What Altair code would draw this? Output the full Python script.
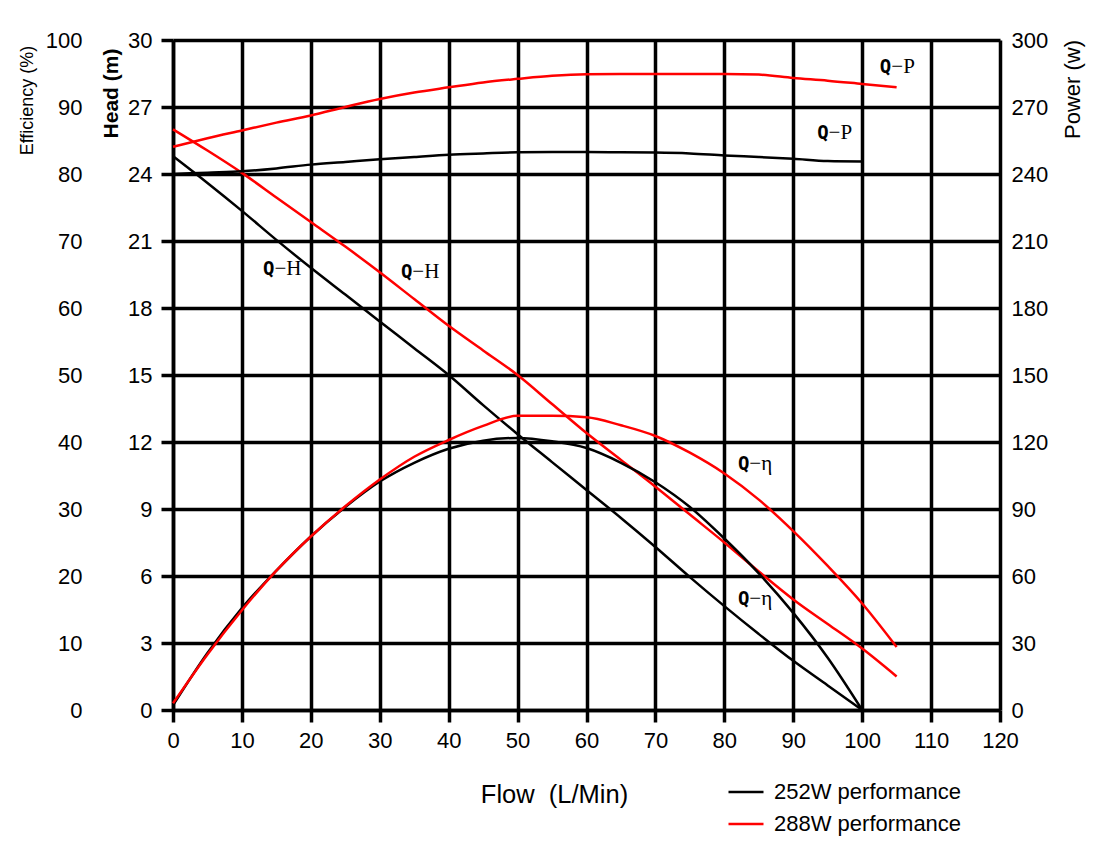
import altair as alt
import pandas as pd

# ---- data ----
flow_252 = [0, 5, 10, 15, 20, 25, 30, 35, 40, 45, 50, 55, 60, 65, 70, 75, 80, 85, 90, 95, 100]
head_252 = [24.8, 23.6, 22.35, 21.05, 19.8, 18.6, 17.4, 16.2, 15.0, 13.65, 12.35, 11.1, 9.85, 8.6, 7.3, 5.95, 4.65, 3.4, 2.2, 1.1, 0.0]
eff_252 = [0.7, 8.5, 15.2, 20.8, 25.9, 30.3, 34.1, 36.9, 39.0, 40.2, 40.6, 40.1, 39.1, 36.9, 34.0, 30.3, 25.6, 20.4, 14.5, 7.8, 0.0]
power_252 = [240.0, 240.6, 241.2, 242.5, 244.2, 245.4, 246.6, 247.6, 248.6, 249.2, 249.7, 249.8, 249.8, 249.7, 249.6, 249.2, 248.3, 247.6, 246.8, 245.8, 245.6]

flow_288 = [0, 5, 10, 15, 20, 25, 30, 35, 40, 45, 50, 55, 60, 65, 70, 75, 80, 85, 90, 95, 100, 105]
head_288 = [26.0, 25.05, 24.05, 22.95, 21.85, 20.75, 19.6, 18.4, 17.2, 16.1, 15.0, 13.7, 12.4, 11.2, 10.0, 8.75, 7.5, 6.2, 4.95, 3.85, 2.75, 1.5]
eff_288 = [1.0, 8.3, 14.9, 20.8, 25.9, 30.4, 34.4, 37.8, 40.3, 42.4, 43.9, 43.9, 43.7, 42.5, 40.9, 38.4, 35.3, 31.4, 26.7, 21.5, 15.9, 9.4]
power_288 = [252.2, 256.0, 259.5, 263.0, 266.2, 270.0, 273.6, 276.5, 278.8, 281.0, 282.6, 284.0, 284.7, 284.8, 284.8, 284.8, 284.8, 284.5, 283.0, 281.8, 280.3, 278.8]

pumps = ["252W performance", "288W performance"]
pump_colors = ["#000000", "#ff0000"]

# curve annotations: bold "Q" followed by a thin serif "−X"
label_head_part = ["Q", "Q", "Q", "Q", "Q", "Q"]
label_tail_part = ["\u2212P", "\u2212P", "\u2212H", "\u2212H", "\u2212\u03b7", "\u2212\u03b7"]
label_flow = [105.1, 96.0, 15.6, 35.6, 84.5, 84.5]
label_head = [28.8, 25.85, 19.75, 19.6, 11.0, 4.95]

# ---- build long table ----
rows = []
for pump, flows, series in [
    (pumps[0], flow_252, {"head": head_252, "eff": eff_252, "power": power_252}),
    (pumps[1], flow_288, {"head": head_288, "eff": eff_288, "power": power_288}),
]:
    for kind, vals in series.items():
        for f, v in zip(flows, vals):
            rows.append({"pump": pump, "kind": kind, "curve": pump + kind, "flow": f, "value": v})
df = pd.DataFrame(rows)
labels = pd.DataFrame({"q": label_head_part, "tail": label_tail_part,
                       "flow": label_flow, "head": label_head})

FONT = "Liberation Sans"
GRID_W = 3.5
LINE_W = 2.5

color = alt.Color(
    "pump:N",
    scale=alt.Scale(domain=pumps, range=pump_colors),
    legend=alt.Legend(
        title=None, orient="none", legendX=554, legendY=733,
        symbolType="stroke", symbolSize=1225, symbolStrokeWidth=2.5,
        labelFontSize=22, labelFont=FONT, labelColor="black",
        labelOffset=9, rowPadding=2, padding=0, labelLimit=400,
    ),
)

x_enc = alt.X(
    "flow:Q",
    scale=alt.Scale(domain=[0, 120], nice=False, zero=False),
    axis=alt.Axis(
        values=list(range(0, 121, 10)), grid=True, gridColor="black", gridWidth=GRID_W, gridOpacity=1,
        domainColor="black", domainWidth=GRID_W, tickColor="black", tickWidth=GRID_W, tickSize=12,
        labelFontSize=22, labelFont=FONT, labelColor="black", labelPadding=8, labelFlush=False,
        title="Flow \u00a0(L/Min)", titleFontSize=25.5, titleFont=FONT, titleFontWeight="normal",
        titleColor="black", titleX=381, titleY=84, titleAlign="center", titleBaseline="middle",
    ),
)

base = alt.Chart(df)

head_lines = base.mark_line(strokeWidth=LINE_W, interpolate="monotone").encode(
    x=x_enc,
    y=alt.Y(
        "value:Q",
        scale=alt.Scale(domain=[0, 30], nice=False),
        axis=alt.Axis(
            orient="left", values=list(range(0, 31, 3)), grid=True, gridColor="black", gridWidth=GRID_W,
            gridOpacity=1, domainColor="black", domainWidth=GRID_W, tickColor="black", tickWidth=GRID_W,
            tickSize=12, labelFontSize=22, labelFont=FONT, labelColor="black", labelPadding=9,
            labelFlush=False,
            title="Head (m)", titleFontSize=21, titleFont=FONT, titleFontWeight="bold",
            titleColor="black", titleAngle=270, titleX=-62, titleY=53,
            titleAlign="center", titleBaseline="middle",
        ),
    ),
    color=color,
    detail="curve:N",
).transform_filter(alt.datum.kind == "head")

eff_lines = base.mark_line(strokeWidth=LINE_W, interpolate="monotone").encode(
    x=x_enc,
    y=alt.Y(
        "value:Q",
        scale=alt.Scale(domain=[0, 100], nice=False),
        axis=alt.Axis(
            orient="left", offset=85, values=list(range(0, 101, 10)), grid=False, ticks=False,
            domain=False, labelFontSize=22, labelFont=FONT, labelColor="black", labelPadding=6,
            labelFlush=False,
            title="Efficiency (%)", titleFontSize=18, titleFont=FONT, titleFontWeight="normal",
            titleColor="black", titleAngle=270, titleX=-61, titleY=60,
            titleAlign="center", titleBaseline="middle",
        ),
    ),
    color=color,
    detail="curve:N",
).transform_filter(alt.datum.kind == "eff")

power_lines = base.mark_line(strokeWidth=LINE_W, interpolate="monotone").encode(
    x=x_enc,
    y=alt.Y(
        "value:Q",
        scale=alt.Scale(domain=[0, 300], nice=False),
        axis=alt.Axis(
            orient="right", values=list(range(0, 301, 30)), grid=False, ticks=False,
            domain=False, labelFontSize=22, labelFont=FONT, labelColor="black", labelPadding=11,
            labelFlush=False,
            title="Power (w)", titleFontSize=22, titleFont=FONT, titleFontWeight="normal",
            titleColor="black", titleAngle=270, titleX=72, titleY=49,
            titleAlign="center", titleBaseline="middle",
        ),
    ),
    color=color,
    detail="curve:N",
).transform_filter(alt.datum.kind == "power")

label_base = alt.Chart(labels).encode(
    x=alt.X("flow:Q", scale=alt.Scale(domain=[0, 120], nice=False)),
    y=alt.Y("head:Q", scale=alt.Scale(domain=[0, 30], nice=False), axis=None),
)
label_q = label_base.mark_text(
    font="DejaVu Sans Mono", fontWeight="bold", fontSize=19, color="black",
    align="right", baseline="middle", dx=-6,
).encode(text="q:N")
label_tail = label_base.mark_text(
    font="Liberation Serif", fontSize=21, color="black",
    align="left", baseline="middle", dx=-6,
).encode(text="tail:N")

chart = (
    alt.layer(head_lines, eff_lines, power_lines, label_q, label_tail)
    .resolve_scale(y="independent")
    .resolve_axis(y="independent")
    .properties(
        width=827, height=670,
        autosize=alt.AutoSizeParams(type="none"),
        padding={"left": 165, "top": 32, "right": 90, "bottom": 140},
        background="white",
    )
    .configure_view(stroke=None)
)

chart.save("out.html", embed_options={"renderer": "svg", "actions": False})
